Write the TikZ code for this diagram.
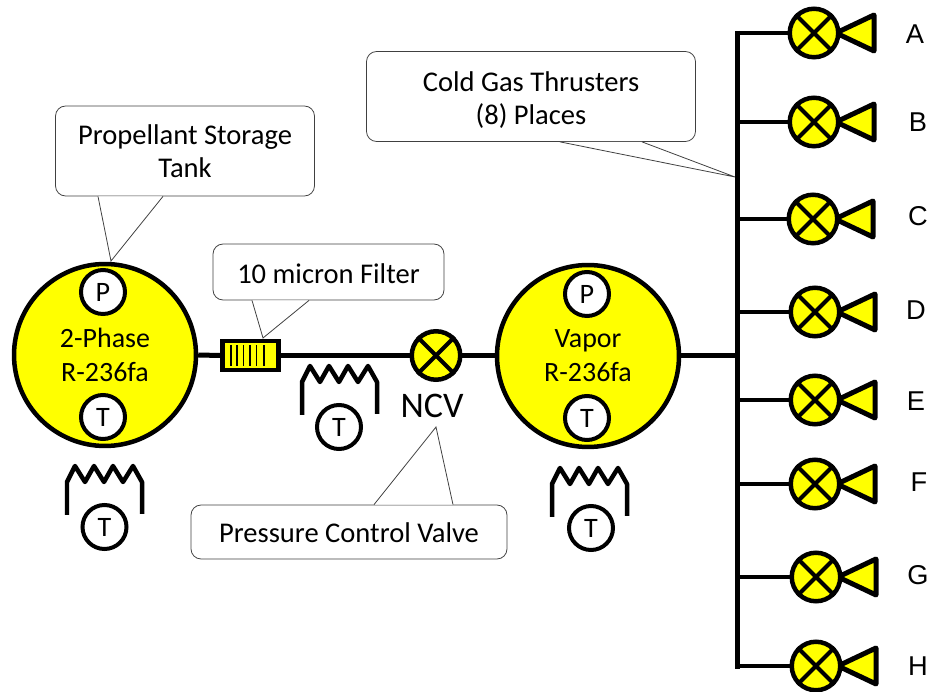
\documentclass[tikz,border=0pt]{standalone}
\usepackage{fontspec}
\setmainfont{Carlito}
\newfontfamily\labelfont{Liberation Sans}
\definecolor{tankyellow}{RGB}{255,255,0}
\tikzset{
    pipe/.style={line width=.1cm},
    tank/.style={circle, draw, fill=tankyellow, line width=.09cm, minimum size=3.64cm, inner sep=0pt, align=center, font=\fontsize{15.9}{19.3}\selectfont},
    gauge/.style={circle, draw, fill=white, line width=.08cm, minimum size=.88cm, inner sep=0pt, font=\fontsize{16}{18}\selectfont},
    valve/.style={circle, draw, fill=tankyellow, line width=.09cm, minimum size=.97cm, inner sep=0pt},
    nozzle/.style={draw, fill=tankyellow, line width=.1cm, line join=round},
    heater/.style={line width=.09cm, line join=round},
    callout/.style={draw=black!75, line width=.45pt, fill=white, rounded corners=.2cm, align=center, inner sep=0pt, font=\fontsize{16.25}{18.8}\selectfont},
    tail/.style={draw=black!75, line width=.45pt, fill=white},
}
\begin{document}
\begin{tikzpicture}[x=.02cm, y=-.02cm]
    \useasboundingbox (0, 0) rectangle (931, 692);

    % callouts
    \node[callout, minimum width=5.18cm, minimum height=1.8cm] (boxTank) at (185, 151) {Propellant Storage\\Tank};
    \node[callout, minimum width=6.58cm, minimum height=1.8cm] (boxThruster) at (531, 96.5) {\rule{0pt}{15.5pt}Cold Gas Thrusters\\(8) Places};
    \node[callout, minimum width=4.62cm, minimum height=1.12cm] (boxFilter) at (328.5, 272) {\rule{0pt}{13pt}10 micron Filter};
    \node[callout, minimum width=6.32cm, minimum height=1.08cm] (boxValve) at (349, 532) {\rule{0pt}{12.5pt}Pressure Control Valve};
    \coordinate (tipTank) at (111, 261);
    \coordinate (tipThruster) at (735, 177);
    \coordinate (tipFilter) at (263, 338);
    \coordinate (tipValve) at (436, 427);
    \draw[tail] (98, 0 |- boxTank.south) -- (tipTank) -- (163, 0 |- boxTank.south);
    \draw[tail] (560, 0 |- boxThruster.south) -- (tipThruster) -- (642, 0 |- boxThruster.south);
    \draw[tail] (252, 0 |- boxFilter.south) -- (tipFilter) -- (309, 0 |- boxFilter.south);
    \draw[tail] (374, 0 |- boxValve.north) -- (tipValve) -- (453, 0 |- boxValve.north);

    % tanks
    \node[tank] (tankLiquid) at (105, 355) {2-Phase\\R-236fa};
    \node[tank] (tankVapor) at (588, 356) {Vapor\\R-236fa};
    \node[gauge] (pLiquid) at (103, 292) {P};
    \node[gauge] (tLiquid) at (103, 417) {T};
    \node[gauge] (tLiquidOut) at (104.5, 527) {T};
    \node[gauge] (pVapor) at (587, 294) {P};
    \node[gauge] (tVapor) at (587, 418) {T};
    \node[gauge] (tVaporOut) at (591, 528) {T};
    \node[gauge] (tLine) at (339, 427) {T};

    % filter and valve on the line
    \node[draw, fill=tankyellow, line width=.09cm, minimum width=1.12cm, minimum height=.58cm, inner sep=0pt] (filter) at (250.5, 355.5) {};
    \foreach \x in {230.7, 237, 243.5, 250, 256.5, 264}
        \draw[line width=.035cm] (\x, 345) -- (\x, 366);
    \node[valve] (valveNcv) at (436, 355.5) {};
    \draw[line width=.08cm] (valveNcv.45) -- (valveNcv.225) (valveNcv.135) -- (valveNcv.315);
    \node[font=\fontsize{20.5}{24}\selectfont] (labelNcv) at (432, 406) {NCV};
    \draw[pipe] (tankLiquid.east) -- (filter.west);
    \draw[pipe] (filter.east) -- (valveNcv.west);
    \draw[pipe] (valveNcv.east) -- (valveNcv.east -| tankVapor.west);

    % heaters
    \foreach \x/\y in {67/515, 302/415, 552/517}
        \draw[heater] (\x, \y) -- ++(0, -33) -- ++(8, -16) -- ++(10, 16) -- ++(9, -16) -- ++(10, 16) -- ++(9, -16) -- ++(10, 16) -- ++(10, -16) -- ++(9, 16) -- ++(0, 32);

    % thrusters
    \coordinate (busTop) at (737, 31);
    \coordinate (busBottom) at (737, 669);
    \draw[pipe] (busTop) -- (busBottom);
    \draw[pipe] (tankVapor.east) -- (tankVapor.east -| busTop);
    \foreach \name/\x/\y/\lx/\ly in {A/814/33/915/34, B/814/122/918/122, C/813/219/918/216, D/815/312/916/310, E/815/400/916/401, F/815/484/919/482, G/816/577/918/575, H/816/666/918/666} {
        \draw[nozzle] (\x+22, \y) -- (\x+60, \y-18) -- (\x+60, \y+18) -- cycle;
        \node[valve] (valve\name) at (\x, \y) {};
        \draw[line width=.08cm] (valve\name.45) -- (valve\name.225) (valve\name.135) -- (valve\name.315);
        \draw[line width=.09cm] (valve\name.west -| busTop) -- (valve\name.west);
        \node[font=\labelfont\fontsize{15.5}{17}\selectfont] (label\name) at (\lx, \ly) {\name};
    }
\end{tikzpicture}
\end{document}
